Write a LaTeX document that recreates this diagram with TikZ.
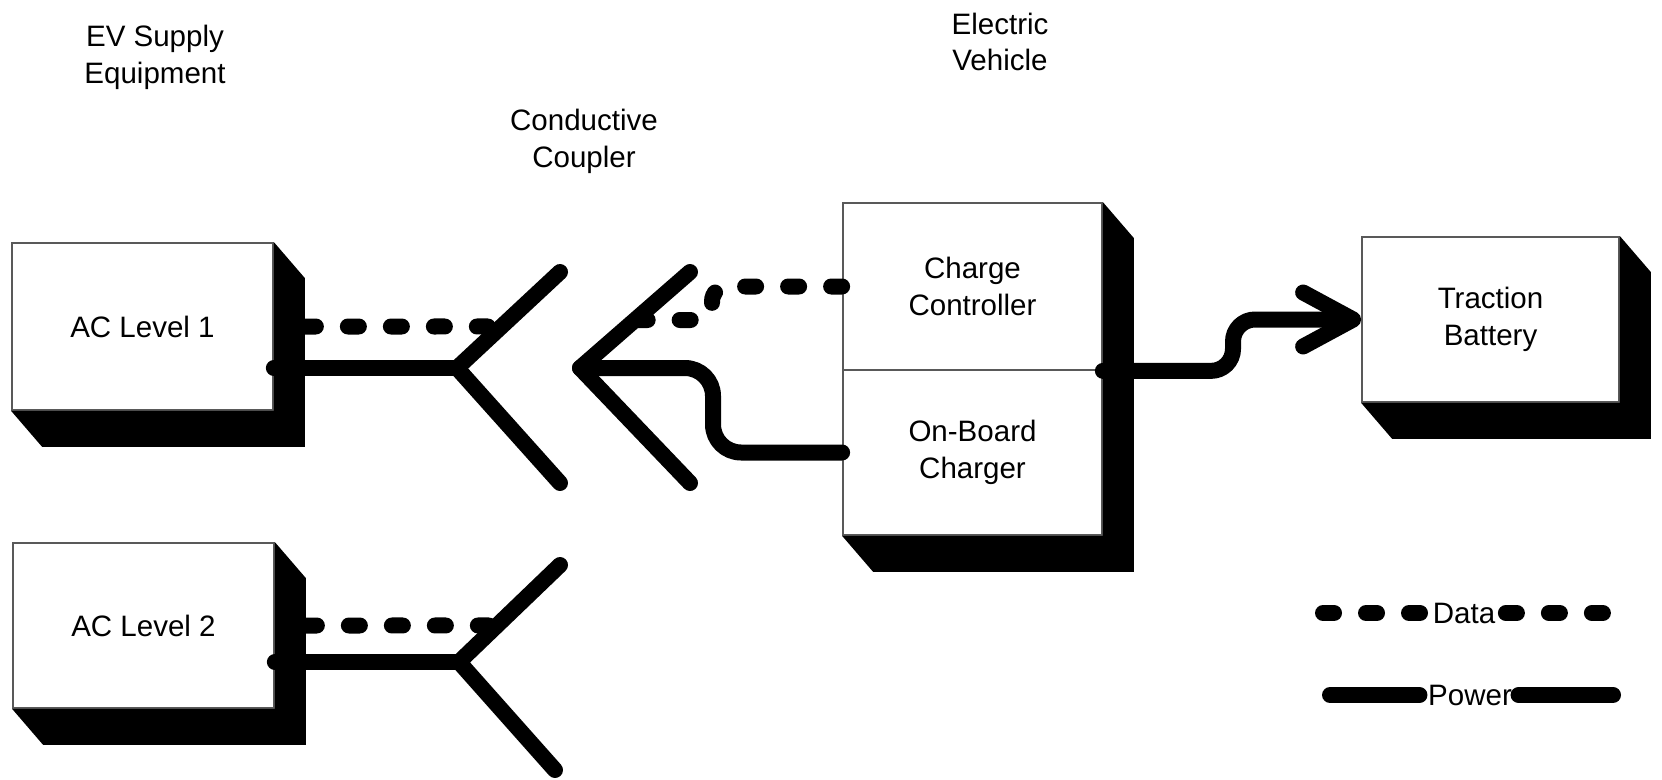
\documentclass[tikz,border=0pt]{standalone}
\usepackage{fontspec}
\setmainfont{Liberation Sans}
\usetikzlibrary{calc,arrows.meta}
\newcommand{\lblfont}{\fontsize{8.4}{10.5}\selectfont}
\newcommand{\boxshadow}[2]{%
  \fill (#1.north east) -- ++(31,36) -- ($(#2.south east)+(31,36)$)
        -- ($(#2.south west)+(31,36)$) -- (#2.south west) -- (#2.south east) -- cycle;}
\begin{document}
\begin{tikzpicture}[x=0.1mm,y=-0.1mm,
  face/.style={rectangle, draw=black!65, line width=0.5pt, fill=white,
               inner sep=0pt, align=center, font=\lblfont},
  lbl/.style={inner sep=0pt, align=center, font=\lblfont},
  power/.style={line width=1.6mm, line cap=round, line join=round},
  data/.style={line width=1.6mm, line cap=round, dash pattern=on 1.1mm off 3.2mm}]
\useasboundingbox (0,0) rectangle (1662,779);

% headings
\node[lbl] (evse) at (155,57) {EV Supply\\Equipment};
\node[lbl] (evh) at (1000,42) {Electric\\Vehicle};
\node[lbl] (cplr) at (584,141) {Conductive\\Coupler};

% boxes
\node[face, minimum width=26.1mm, minimum height=16.7mm] (ac1) at (142.5,326.5) {AC Level 1};
\node[face, minimum width=26.1mm, minimum height=16.5mm] (ac2) at (143.5,625.5) {AC Level 2};
\node[face, minimum width=25.9mm, minimum height=16.7mm] (cc) at (972.5,286.5) {Charge\\Controller};
\node[face, minimum width=25.9mm, minimum height=16.5mm] (obc) at (972.5,452.5) {On-Board\\Charger};
\node[face, minimum width=25.7mm, minimum height=16.5mm] (tb) at (1490.5,319.5) {Traction\\Battery};
\boxshadow{ac1}{ac1}
\boxshadow{ac2}{ac2}
\boxshadow{cc}{obc}
\boxshadow{tb}{tb}

% coupler 1 (AC Level 1)
\coordinate (j1) at (457,368);
\coordinate (u1) at (560,272);
\coordinate (l1) at (560,483);
\draw[power] (u1) -- (j1) -- (l1);
\draw[power] (ac1.east |- j1) -- (j1);
\coordinate (d1) at (intersection of j1--u1 and ac1.west--ac1.east);
\draw[data] ($(ac1.east)+(31,0)$) -- (d1);

% coupler 2 (vehicle inlet)
\coordinate (v2) at (580,368);
\coordinate (u2) at (690,272);
\coordinate (l2) at (690,483);
\draw[power] (u2) -- (v2) -- (l2);
\coordinate (b2) at (713,0);
\draw[power, rounded corners=2.8mm] (v2) -- (v2 -| b2) -- (obc.west -| b2) -- (obc.west);
\coordinate (b3) at (712,320);
\coordinate (d2) at ($(v2)!0.5!(u2)$);
\draw[data, rounded corners=1.5mm] (cc.west) -- (cc.west -| b3) -- (b3) -- (d2);

% coupler 3 (AC Level 2)
\coordinate (j3) at (459,662);
\coordinate (u3) at (560,565);
\coordinate (l3) at (555,770);
\draw[power] (u3) -- (j3) -- (l3);
\draw[power] (ac2.east |- j3) -- (j3);
\coordinate (d3) at (intersection of j3--u3 and ac2.west--ac2.east);
\draw[data] ($(ac2.east)+(31,0)$) -- (d3);

% vehicle to battery
\coordinate (b5) at (1233,0);
\draw[power, rounded corners=2.2mm, -{Straight Barb[length=5mm, width=5.4mm, round]}]
  (cc.south east) -- (cc.south east -| b5) -- (tb.west -| b5) -- (tb.west);

% legend
\node[lbl] (datal) at (1464,613) {Data};
\coordinate (dA) at (1323,613);
\coordinate (dB) at (1613,613);
\draw[data, shorten >=0.8mm] (dA) -- (datal.west);
\draw[data, shorten <=1.0mm] (datal.east) -- (dB);
\node[lbl] (powl) at (1470,695) {Power};
\coordinate (pA) at (1330,695);
\coordinate (pB) at (1613,695);
\draw[power, shorten >=0.8mm] (pA) -- (powl.west);
\draw[power, shorten <=0.6mm] (powl.east) -- (pB);
\end{tikzpicture}
\end{document}
